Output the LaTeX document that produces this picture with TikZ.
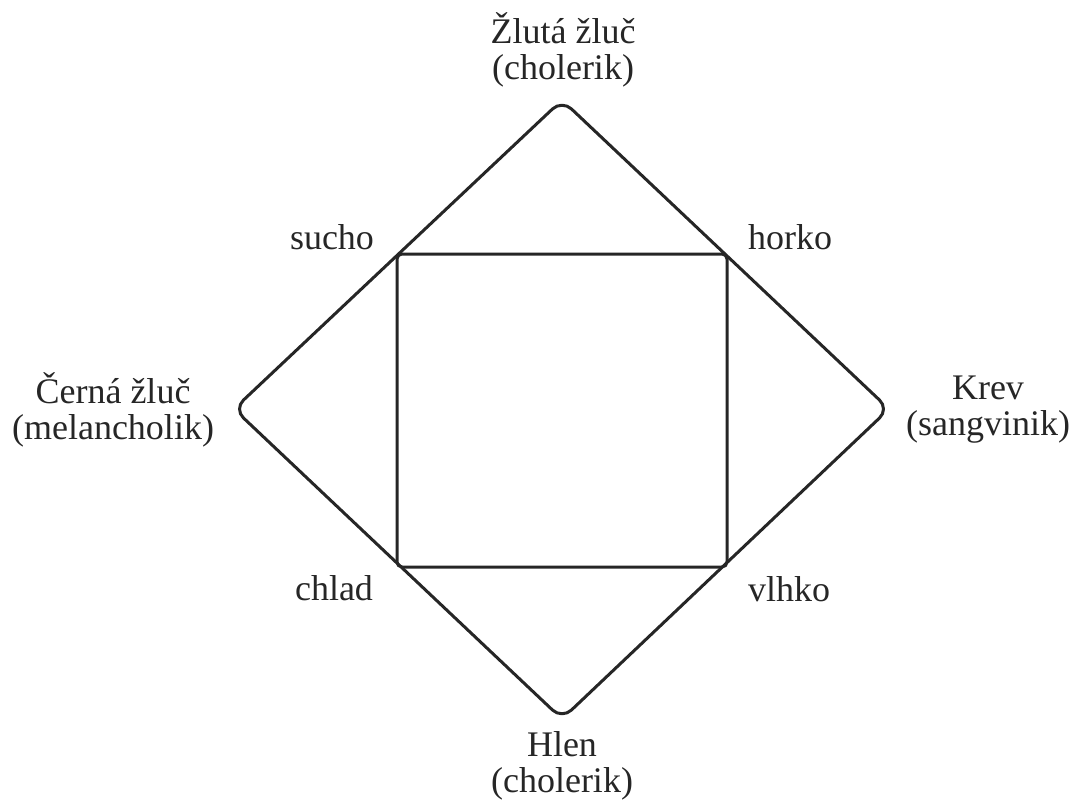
\documentclass[tikz,border=0pt]{standalone}
\usepackage{fontspec}
\setmainfont{Liberation Serif}
\begin{document}
\begin{tikzpicture}[x=1pt,y=-1pt,
  lbl/.style={inner sep=0pt, align=center, text=black!85, font=\fontsize{36}{36}\selectfont},
  outline/.style={draw=black!85, line width=3pt, line join=round}]
\useasboundingbox (0,0) rectangle (1074,803);
% diamond vertices
\coordinate (T) at (562,100);
\coordinate (L) at (234,409);
\coordinate (R) at (889,409);
\coordinate (B) at (562,719);
% square corners
\coordinate (s1) at (397,254);
\coordinate (s2) at (727,254);
\coordinate (s3) at (727,567);
\coordinate (s4) at (397,567);
\draw[outline, rounded corners=13pt] (T) -- (R) -- (B) -- (L) -- cycle;
\draw[outline, rounded corners=5pt] (s1) -- (s2) -- (s3) -- (s4) -- cycle;
% labels
\node[lbl] (top) at (563,50) {Žlutá žluč\\(cholerik)};
\node[lbl] (left) at (113,410) {Černá žluč\\(melancholik)};
\node[lbl] (right) at (988,410) {Krev\\(sangvinik)};
\node[lbl] (bottom) at (562,766) {Hlen\\(cholerik)};
\node[lbl] (sucho) at (332,237) {sucho};
\node[lbl] (horko) at (790,237) {horko};
\node[lbl] (chlad) at (334,588) {chlad};
\node[lbl] (vlhko) at (789,589) {vlhko};
\end{tikzpicture}
\end{document}
